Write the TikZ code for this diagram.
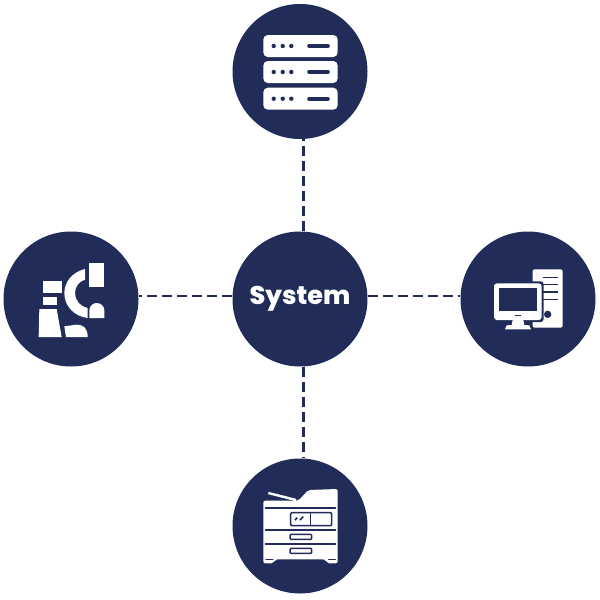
\documentclass[tikz,border=0pt]{standalone}
\usepackage{fontspec}
\setmainfont{Poppins}
\newfontfamily\hubfont{Poppins}[BoldFont={Poppins ExtraBold}]
\definecolor{navy}{HTML}{212D58}
\tikzset{
  x=1pt,y=-1pt,
  disc/.style={circle,fill=navy,minimum size=135pt,inner sep=0pt,text=white},
  link/.style={draw=navy,line width=2.4pt,dash pattern=on 10pt off 5pt},
  ink/.style={fill=white,draw=none},
  rule/.style={draw=navy,line width=2pt,line cap=round},
  panel/.style={draw=navy,line width=1.5pt,fill=white,rounded corners=1pt},
}
\begin{document}
\begin{tikzpicture}
\useasboundingbox (0,0) rectangle (600,600);
\fill[white] (0,0) rectangle (600,600);
\node[disc] (hub) at (300,299) {\hubfont\fontsize{25.5pt}{25.5pt}\selectfont\bfseries System};
\node[disc] (top) at (300,71.5) {};
\node[disc] (bottom) at (300,526) {};
\node[disc] (left) at (71,299) {};
\node[disc] (right) at (528,299) {};
\draw[link] (hub.87) -- (top.273);
\draw[link] (hub.273) -- (bottom.87);
\draw[link] ([yshift=-0.5pt]hub.177) -- ([yshift=-0.5pt]left.3);
\draw[link] ([yshift=-0.5pt]hub.3) -- ([yshift=-0.5pt]right.177);
% server
\foreach \yy in {35,61,87.7}{
  \fill[white,rounded corners=4.5pt] (263.3,\yy) rectangle (337.7,\yy+22);
  \foreach \xx in {273.7,282.7,291.3}{\fill[navy] (\xx,\yy+11) circle (2.2);}
  \draw[navy,line width=3.6pt,line cap=round] (309,\yy+11) -- (328,\yy+11);
}
% left icon
\begin{scope}[shift={(35,258)},scale=1/3]
\fill[ink] (163,15) rectangle (208,87);
\fill[ink] (150,33) .. controls (112,42) and (88,72) .. (88,105)
  .. controls (88,145) and (118,175) .. (158,180) -- (158,150)
  .. controls (135,145) and (120,127) .. (120,105)
  .. controls (120,85) and (133,70) .. (150,65) -- cycle;
\fill[ink] (25,70) rectangle (80,105);
\fill[ink] (25,118) rectangle (65,140);
\fill[ink] (13,153) -- (65,153) -- (80,237) -- (11,237) -- cycle;
\fill[ink] (88,205) -- (125,200) .. controls (145,200) and (158,210) .. (158,237) -- (93,237) -- cycle;
\fill[ink] (163,180) -- (163,157) .. controls (163,145) and (173,135) .. (185,135)
  .. controls (198,135) and (208,145) .. (208,157) -- (208,180) -- cycle;
\end{scope}
% right icon
\begin{scope}[shift={(490,265)},scale=1/3]
\fill[white,rounded corners=2pt] (128,13) rectangle (218,188);
\foreach \yy in {37,59,81,103}{\draw[navy,line width=1.4pt] (158,\yy) -- (203,\yy);}
\fill[navy] (173,148) circle (11);
\fill[navy,rounded corners=3pt] (6,49) rectangle (161,171);
\fill[white,rounded corners=3pt] (12,55) rectangle (155,165);
\fill[navy] (27,70) rectangle (140,137);
\fill[navy] (75,150) rectangle (92,154);
\fill[white] (68,165) -- (100,165) -- (103,180) -- (118,181) -- (123,193) -- (45,193) -- (50,181) -- (65,180) -- cycle;
\end{scope}
% printer
\begin{scope}[shift={(240,470)},scale=1/3]
\fill[white,rounded corners=2pt] (70,280) -- (70,92) -- (175,92) -- (205,60) -- (293,57) -- (293,280) -- (262,280) -- (256,268) -- (106,268) -- (100,280) -- cycle;
\draw[white,line width=2.4pt] (85,69) -- (168,90);
\foreach \yy in {113,181,221}{\draw[rule] (77,\yy) -- (286,\yy);}
\draw[panel] (152,128) rectangle (275,167);
\draw[navy,line width=1.5pt] (212,128) -- (212,167);
\draw[navy,line width=1.5pt] (165,150) -- (172,143) (180,150) -- (190,140);
\draw[panel] (150,193) rectangle (215,208);
\draw[panel] (150,235) rectangle (215,250);
\draw[rule,line width=1.5pt] (78,269) -- (98,269) (266,269) -- (286,269);
\end{scope}
\end{tikzpicture}
\end{document}
